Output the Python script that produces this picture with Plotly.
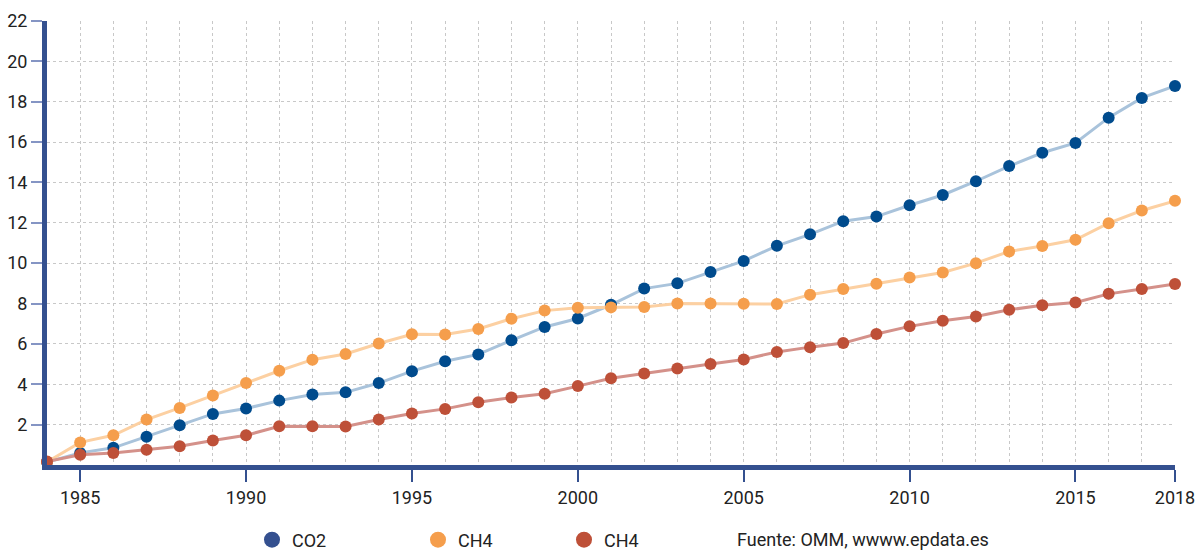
import plotly.graph_objects as go

years = list(range(1984, 2019))

co2 = [0.15, 0.6, 0.85, 1.4, 1.97, 2.53, 2.8, 3.19, 3.49, 3.6, 4.06,
       4.65, 5.14, 5.48, 6.18, 6.84, 7.26, 7.94, 8.74, 9.0, 9.56,
       10.11, 10.86, 11.43, 12.08, 12.31, 12.87, 13.38, 14.06, 14.81, 15.47,
       15.96, 17.21, 18.19, 18.78]

ch4_a = [0.15, 1.12, 1.47, 2.25, 2.83, 3.44, 4.06, 4.67, 5.22, 5.5, 6.02,
         6.48, 6.47, 6.74, 7.25, 7.65, 7.79, 7.81, 7.83, 8.0, 8.0,
         7.99, 7.98, 8.44, 8.72, 8.98, 9.29, 9.54, 10.0, 10.58, 10.85,
         11.16, 11.98, 12.61, 13.09]

ch4_b = [0.17, 0.51, 0.6, 0.76, 0.93, 1.21, 1.47, 1.92, 1.92, 1.91, 2.25,
         2.55, 2.78, 3.11, 3.34, 3.53, 3.91, 4.3, 4.53, 4.78, 5.0,
         5.23, 5.6, 5.84, 6.04, 6.49, 6.87, 7.15, 7.36, 7.69, 7.91,
         8.05, 8.48, 8.72, 8.97]

series_names = ["CO2", "CH4", "CH4"]
x_tickvals = [1985, 1990, 1995, 2000, 2005, 2010, 2015, 2018]
y_tickvals = [2, 4, 6, 8, 10, 12, 14, 16, 18, 20, 22]

line_colors = ["#a9c3db", "#fcd0a2", "#d4918a"]
marker_colors = ["#004b8d", "#f59e4c", "#be5038"]
legend_colors = ["#34508f", "#f59e4c", "#be5038"]

FONT = "Roboto"
NAVY = "#34508f"

fig = go.Figure()
for vals, lc, mc in zip([co2, ch4_a, ch4_b], line_colors, marker_colors):
    fig.add_trace(go.Scatter(
        x=years, y=vals, mode="lines+markers",
        line=dict(color=lc, width=3),
        marker=dict(color=mc, size=12),
        showlegend=False, cliponaxis=False, hoverinfo="x+y"))

legend_keys = ["legend", "legend2", "legend3"]
legend_x = [252, 418, 564]
for name, col, lk in zip(series_names, legend_colors, legend_keys):
    fig.add_trace(go.Scatter(
        x=[None], y=[None], mode="markers", name=name,
        marker=dict(color=col, size=16), legend=lk, showlegend=True))

legend_common = dict(orientation="h", xref="container", yref="container",
                     yanchor="middle", xanchor="left", y=10 / 550,
                     font=dict(family=FONT, size=18, color="#222222"),
                     bgcolor="rgba(0,0,0,0)", borderwidth=0)

layout_legends = {}
for lk, lx in zip(legend_keys, legend_x):
    layout_legends[lk] = dict(legend_common, x=lx / 1198)

grid_style = dict(gridcolor="#c8c8c8", griddash="dot", gridwidth=1)

fig.update_layout(
    width=1198, height=550,
    margin=dict(l=47, r=23, t=21, b=85),
    paper_bgcolor="white", plot_bgcolor="white",
    font=dict(family=FONT, color="#222222"),
    xaxis=dict(
        range=[1984, 2018], tickvals=x_tickvals,
        ticktext=[str(v) for v in x_tickvals],
        showgrid=True, **grid_style,
        minor=dict(dtick=1, tick0=1984, showgrid=True, ticks="", **grid_style),
        showline=True, linecolor=NAVY, linewidth=5,
        ticks="outside", ticklen=12, tickwidth=1.5, tickcolor=NAVY,
        tickfont=dict(family=FONT, size=18, color="#222222"),
        zeroline=False, fixedrange=True, automargin=False),
    yaxis=dict(
        range=[0, 22], tickvals=y_tickvals,
        showgrid=True, **grid_style,
        showline=True, linecolor=NAVY, linewidth=5,
        ticks="outside", ticklen=11, tickwidth=1.5, tickcolor="#8595c4",
        tickfont=dict(family=FONT, size=18, color="#222222"),
        zeroline=False, fixedrange=True, automargin=False),
    annotations=[dict(
        text="Fuente: OMM, wwww.epdata.es", xref="paper", yref="paper",
        x=(735 - 47) / 1128, y=(465.4 - 540) / 444.7,
        xanchor="left", yanchor="middle", showarrow=False,
        font=dict(family=FONT, size=18, color="#222222"))],
    **layout_legends,
)

fig.write_html("out.html",
               config={"displayModeBar": False},
               post_script="document.body.style.margin='0';document.body.style.overflow='hidden';")
